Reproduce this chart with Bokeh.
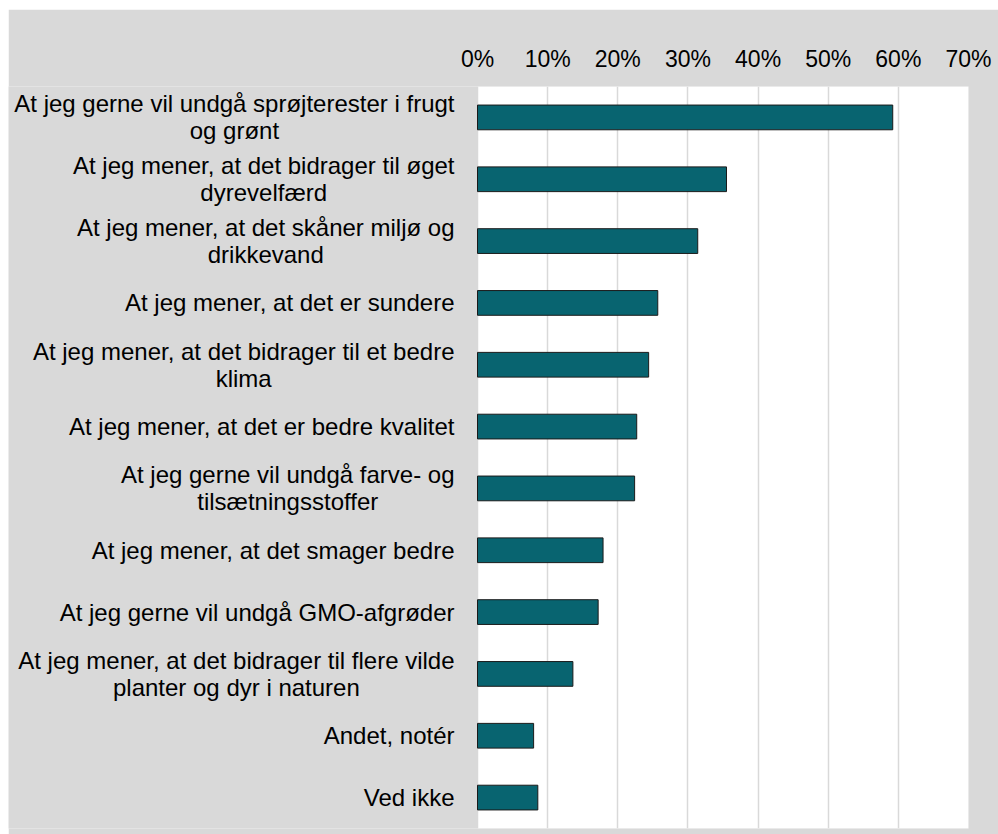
from bokeh.plotting import figure
from bokeh.models import FactorRange, Range1d, FixedTicker, NumeralTickFormatter, BoxAnnotation
from bokeh.core.properties import value
from bokeh.embed import file_html
from bokeh.resources import INLINE

categories = [
    "At jeg gerne vil undgå sprøjterester i frugt\nog grønt",
    "At jeg mener, at det bidrager til øget\ndyrevelfærd",
    "At jeg mener, at det skåner miljø og\ndrikkevand",
    "At jeg mener, at det er sundere",
    "At jeg mener, at det bidrager til et bedre\nklima",
    "At jeg mener, at det er bedre kvalitet",
    "At jeg gerne vil undgå farve- og\ntilsætningsstoffer",
    "At jeg mener, at det smager bedre",
    "At jeg gerne vil undgå GMO-afgrøder",
    "At jeg mener, at det bidrager til flere vilde\nplanter og dyr i naturen",
    "Andet, notér",
    "Ved ikke",
]
values = [0.592, 0.355, 0.314, 0.257, 0.244, 0.227, 0.224, 0.179, 0.172, 0.136, 0.080, 0.086]
tick_values = [0.0, 0.1, 0.2, 0.3, 0.4, 0.5, 0.6, 0.7]

FONT = "Liberation Sans"
GREY = "#d9d9d9"

# layout: figure 990 px wide; label area 469 px, plot area 491 px, right border 30 px
W, LABEL_W, PLOT_W, RIGHT_W = 990, 469, 491, 30
X_MAX = 0.7
x_start = -X_MAX * LABEL_W / PLOT_W

p = figure(
    width=W, height=825,
    y_range=FactorRange(factors=list(reversed(categories)), range_padding=0),
    x_range=Range1d(x_start, X_MAX),
    x_axis_location="above",
    output_backend="svg", toolbar_location=None,
    min_border_left=0, min_border_right=RIGHT_W, min_border_top=77, min_border_bottom=6,
    background_fill_color=GREY, border_fill_color=GREY,
)
p.margin = (9, 0, 0, 8)
p.outline_line_color = None

# white plot area from 0 % to 70 %
p.add_layout(BoxAnnotation(left=0, right=X_MAX, fill_color="white", fill_alpha=1,
                           line_color=None, level="image"))

p.hbar(y=categories, right=values, left=0, height=0.4,
       fill_color="#086470", line_color="#1a1a1a", line_width=1)

# category labels: block right-aligned next to the plot area, lines centred
p.text(x=[0] * len(categories), y=categories, text=categories,
       x_offset=-23, anchor="center_right", text_align="center", text_baseline="middle",
       text_font=value(FONT), text_font_size="24px", text_color="black",
       text_line_height=1.0)

p.xaxis.ticker = FixedTicker(ticks=tick_values)
p.xaxis.formatter = NumeralTickFormatter(format="0%")
p.xaxis.axis_line_color = None
p.xaxis.major_tick_line_color = None
p.xaxis.minor_tick_line_color = None
p.xaxis.major_tick_out = 0
p.xaxis.major_tick_in = 0
p.xaxis.major_label_standoff = 15
p.xaxis.major_label_text_font = FONT
p.xaxis.major_label_text_font_size = "23px"
p.xaxis.major_label_text_color = "black"
p.yaxis.visible = False

p.xgrid.grid_line_color = GREY
p.xgrid.grid_line_width = 1.5
p.ygrid.grid_line_color = None

open("out.html", "w").write(file_html(p, INLINE))
